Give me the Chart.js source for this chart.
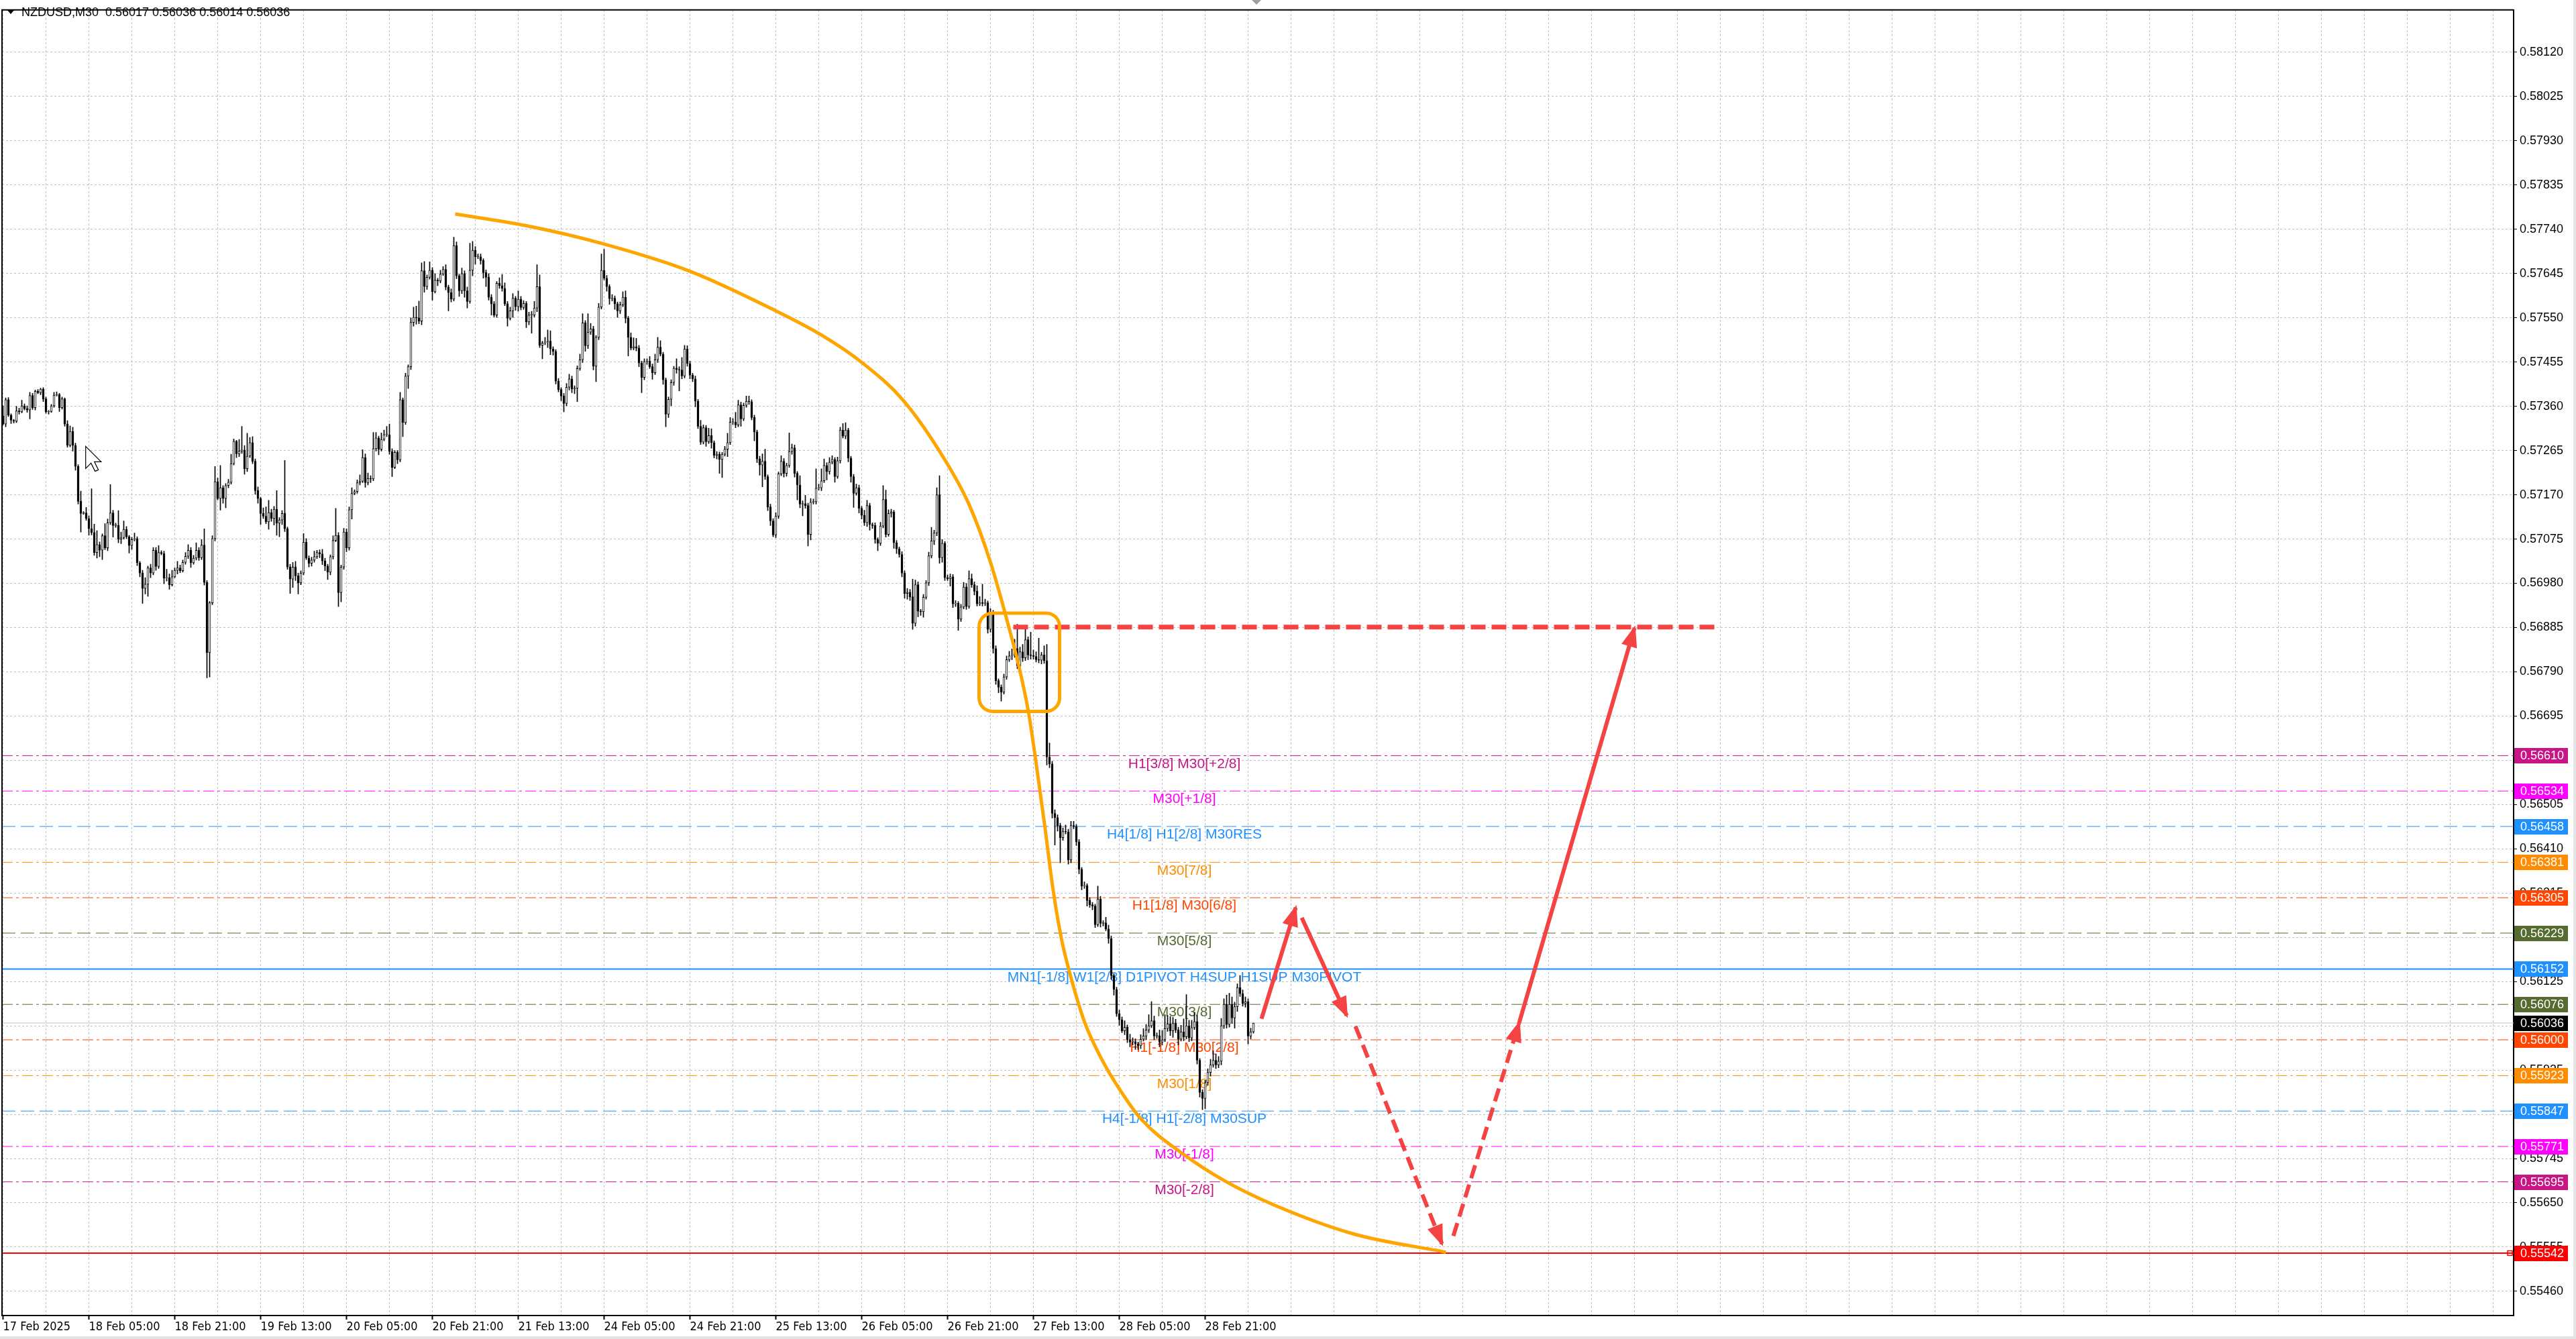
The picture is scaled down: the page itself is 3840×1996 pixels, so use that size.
<!DOCTYPE html>
<html>
<head>
<meta charset="utf-8">
<title>NZDUSD,M30</title>
<script src="https://cdn.jsdelivr.net/npm/chart.js"></script>
<style>
  html, body { margin: 0; padding: 0; background: #fff; overflow: hidden; }
  canvas { display: block; }
</style>
</head>
<body>
<canvas id="chart" width="3840" height="1996"></canvas>
<script>
// NZDUSD M30 candles, prices in points (1 point = 0.00001)
const firstOpen = 57339;
const closes = [
  57322, 57374, 57341, 57330, 57328, 57350, 57348, 57361, 57355, 57352,
  57383, 57357, 57392, 57389, 57397, 57376, 57348, 57349, 57361, 57384,
  57385, 57357, 57376, 57322, 57276, 57306, 57276, 57231, 57156, 57130,
  57131, 57119, 57097, 57089, 57046, 57063, 57051, 57082, 57056, 57110,
  57131, 57104, 57104, 57075, 57078, 57096, 57080, 57061, 57074, 57076,
  57024, 57002, 56969, 56978, 57013, 57002, 57051, 57016, 57046, 57044,
  56991, 56992, 56977, 56994, 57008, 57013, 57007, 57025, 57038, 57051,
  57024, 57034, 57051, 57035, 57062, 56982, 56831, 56938, 57076, 57198,
  57162, 57185, 57162, 57190, 57197, 57237, 57285, 57258, 57264, 57266,
  57226, 57253, 57282, 57242, 57179, 57162, 57130, 57124, 57112, 57132,
  57119, 57139, 57109, 57116, 57130, 57097, 57015, 56989, 57015, 56996,
  56981, 57002, 57068, 57034, 57023, 57030, 57037, 57046, 57043, 57028,
  57017, 57004, 57037, 57072, 57083, 56960, 57015, 57090, 57056, 57138,
  57173, 57177, 57196, 57199, 57250, 57196, 57205, 57204, 57269, 57292,
  57268, 57289, 57299, 57299, 57263, 57229, 57261, 57245, 57374, 57325,
  57425, 57445, 57540, 57551, 57550, 57543, 57651, 57617, 57637, 57652,
  57606, 57631, 57629, 57644, 57654, 57616, 57604, 57590, 57705, 57640,
  57608, 57645, 57608, 57585, 57652, 57695, 57681, 57681, 57673, 57647,
  57637, 57594, 57580, 57556, 57624, 57619, 57613, 57580, 57549, 57565,
  57592, 57574, 57590, 57572, 57581, 57541, 57556, 57556, 57571, 57617,
  57491, 57496, 57498, 57500, 57483, 57478, 57414, 57396, 57382, 57366,
  57401, 57419, 57397, 57399, 57441, 57460, 57539, 57490, 57519, 57526,
  57446, 57508, 57573, 57652, 57635, 57617, 57591, 57592, 57580, 57565,
  57578, 57594, 57549, 57508, 57485, 57488, 57485, 57453, 57422, 57456,
  57457, 57445, 57432, 57460, 57487, 57472, 57417, 57343, 57375, 57411,
  57442, 57439, 57438, 57425, 57483, 57452, 57427, 57419, 57371, 57317,
  57283, 57314, 57284, 57297, 57282, 57255, 57257, 57246, 57257, 57268,
  57282, 57326, 57326, 57320, 57363, 57333, 57362, 57371, 57370, 57336,
  57305, 57247, 57234, 57242, 57209, 57144, 57114, 57084, 57124, 57215,
  57242, 57216, 57233, 57263, 57271, 57216, 57191, 57150, 57151, 57147,
  57085, 57154, 57155, 57184, 57185, 57200, 57233, 57220, 57240, 57246,
  57209, 57243, 57309, 57296, 57309, 57249, 57209, 57173, 57185, 57141,
  57126, 57110, 57147, 57106, 57104, 57074, 57066, 57103, 57160, 57085,
  57130, 57133, 57067, 57054, 57042, 57002, 56958, 56961, 56951, 56894,
  56977, 56920, 56919, 56950, 56981, 57039, 57071, 57088, 57170, 57035,
  57066, 56992, 56990, 56994, 56936, 56937, 56903, 56929, 56972, 56930,
  56990, 56977, 56963, 56936, 56938, 56937, 56938, 56881, 56918, 56840,
  56771, 56757, 56746, 56779, 56816, 56824, 56825, 56840, 56803, 56833,
  56820, 56859, 56826, 56825, 56823, 56816, 56815, 56826, 56814, 56607,
  56592, 56486, 56477, 56460, 56434, 56447, 56446, 56386, 56460, 56458,
  56425, 56366, 56330, 56331, 56299, 56290, 56287, 56247, 56302, 56250,
  56251, 56238, 56217, 56138, 56108, 56056, 56043, 56019, 56027, 56000,
  55995, 55996, 55991, 55987, 56001, 56008, 56021, 56030, 56041, 56008,
  56009, 55995, 56000, 56024, 56034, 56019, 56036, 56021, 56001, 56017,
  56006, 56030, 56004, 56026, 56039, 55956, 55887, 55874, 55908, 55930,
  55946, 55956, 55946, 55954, 56030, 56076, 56033, 56076, 56047, 56071,
  56112, 56099, 56078, 56082, 56008, 56017, 56036
];
// wick above the body / below the body, in points
const upWick = [
  22, 4, 5, 3, 2, 10, 6, 12, 4, 6,
  7, 5, 3, 4, 2, 3, 4, 2, 3, 6,
  6, 3, 4, 2, 7, 12, 9, 5, 4, 22,
  3, 12, 6, 86, 18, 30, 6, 4, 26, 8,
  61, 6, 5, 32, 12, 18, 6, 3, 5, 12,
  4, 3, 6, 14, 4, 8, 6, 6, 15, 4,
  5, 18, 8, 14, 5, 14, 6, 5, 8, 12,
  6, 6, 16, 6, 12, 35, 4, 3, 6, 33,
  8, 48, 5, 4, 6, 20, 5, 2, 25, 51,
  10, 49, 11, 13, 5, 8, 3, 12, 20, 26,
  7, 6, 40, 5, 6, 114, 4, 6, 10, 12,
  6, 5, 19, 8, 5, 6, 12, 5, 6, 10,
  6, 4, 4, 10, 58, 6, 4, 8, 7, 6,
  12, 4, 6, 14, 17, 8, 12, 6, 35, 12,
  4, 14, 10, 18, 23, 6, 4, 4, 16, 4,
  6, 4, 10, 22, 24, 36, 17, 20, 5, 18,
  6, 14, 4, 8, 6, 10, 4, 8, 18, 8,
  4, 12, 6, 8, 58, 19, 8, 6, 6, 4,
  6, 8, 6, 5, 4, 12, 24, 12, 5, 8,
  10, 4, 18, 6, 6, 4, 6, 8, 14, 47,
  25, 4, 10, 24, 22, 5, 4, 6, 4, 6,
  8, 10, 6, 5, 6, 12, 20, 5, 40, 12,
  6, 4, 8, 35, 45, 6, 4, 8, 5, 4,
  6, 12, 14, 4, 10, 19, 18, 6, 4, 6,
  5, 10, 6, 12, 21, 14, 4, 4, 5, 6,
  4, 20, 6, 27, 8, 7, 5, 4, 6, 4,
  13, 6, 5, 16, 15, 4, 6, 5, 4, 6,
  20, 10, 8, 21, 10, 6, 5, 11, 11, 4,
  5, 4, 6, 16, 26, 4, 6, 5, 8, 4,
  12, 6, 5, 40, 8, 6, 4, 20, 6, 18,
  5, 8, 6, 42, 8, 26, 14, 6, 10, 8,
  4, 8, 6, 14, 16, 4, 4, 5, 8, 6,
  4, 11, 11, 5, 4, 6, 4, 8, 30, 20,
  8, 6, 4, 5, 4, 6, 5, 8, 6, 38,
  10, 6, 4, 6, 5, 8, 29, 6, 15, 41,
  8, 4, 6, 6, 5, 6, 4, 6, 10, 8,
  17, 10, 6, 12, 14, 40, 8, 4, 8, 4,
  6, 4, 5, 6, 8, 10, 14, 20, 52, 10,
  16, 25, 6, 49, 12, 10, 46, 6, 20, 35,
  30, 6, 8, 6, 5, 8, 14, 6, 9, 9,
  4, 5, 4, 8, 4, 6, 5, 4, 28, 6,
  5, 12, 8, 6, 4, 5, 8, 6, 14, 5,
  12, 8, 6, 4, 10, 16, 12, 24, 41, 10,
  6, 12, 20, 30, 18, 16, 12, 8, 6, 14,
  28, 67, 12, 16, 20, 14, 4, 6, 5, 8,
  12, 20, 14, 10, 16, 12, 20, 24, 16, 10,
  8, 26, 8, 10, 6, 8, 0
];
const downWick = [
  2, 6, 3, 7, 4, 3, 5, 2, 3, 5,
  19, 4, 5, 2, 4, 6, 3, 5, 2, 3,
  2, 8, 3, 5, 4, 3, 12, 8, 6, 40,
  2, 4, 14, 5, 6, 12, 14, 20, 4, 6,
  4, 25, 4, 8, 10, 3, 4, 16, 8, 3,
  6, 8, 32, 12, 26, 10, 4, 8, 4, 3,
  12, 6, 10, 3, 2, 8, 4, 3, 4, 5,
  10, 3, 4, 6, 4, 6, 54, 52, 4, 5,
  3, 25, 10, 20, 5, 4, 3, 8, 6, 5,
  12, 6, 3, 5, 8, 10, 24, 5, 4, 16,
  6, 14, 26, 29, 10, 6, 5, 31, 18, 10,
  24, 4, 4, 3, 8, 6, 5, 4, 8, 8,
  10, 16, 6, 5, 3, 30, 20, 5, 8, 5,
  20, 3, 4, 5, 3, 10, 5, 8, 4, 5,
  12, 4, 3, 4, 6, 20, 3, 8, 4, 30,
  4, 27, 6, 8, 14, 6, 8, 12, 6, 4,
  18, 3, 10, 4, 3, 6, 39, 6, 4, 6,
  12, 6, 14, 14, 4, 12, 16, 4, 8, 12,
  20, 6, 24, 4, 5, 6, 6, 4, 17, 4,
  14, 8, 10, 5, 4, 12, 6, 39, 4, 8,
  5, 29, 4, 12, 12, 8, 6, 5, 10, 18,
  5, 6, 8, 10, 29, 4, 6, 12, 6, 5,
  8, 33, 5, 4, 4, 10, 12, 5, 12, 14,
  6, 4, 10, 40, 4, 4, 6, 8, 33, 5,
  6, 4, 14, 4, 6, 4, 10, 27, 7, 14,
  6, 8, 45, 6, 4, 6, 8, 6, 12, 5,
  5, 4, 10, 4, 12, 6, 8, 30, 39, 4,
  16, 4, 5, 6, 4, 16, 4, 4, 6, 5,
  19, 8, 22, 47, 6, 8, 10, 4, 6, 5,
  4, 8, 6, 4, 6, 8, 32, 8, 25, 6,
  25, 12, 4, 5, 4, 6, 4, 18, 6, 4,
  12, 4, 5, 4, 6, 8, 12, 30, 4, 10,
  8, 6, 8, 12, 6, 8, 16, 5, 4, 6,
  4, 8, 12, 10, 6, 8, 10, 12, 8, 13,
  6, 12, 8, 12, 4, 6, 5, 8, 6, 12,
  10, 6, 4, 16, 8, 6, 24, 5, 4, 6,
  4, 6, 8, 5, 4, 6, 5, 8, 6, 10,
  8, 12, 19, 4, 5, 4, 8, 4, 6, 5,
  8, 6, 10, 8, 6, 5, 6, 8, 6, 17,
  8, 10, 59, 12, 54, 6, 4, 9, 6, 5,
  8, 10, 8, 5, 12, 6, 8, 6, 4, 8,
  6, 4, 10, 8, 12, 6, 12, 4, 8, 6,
  10, 6, 12, 8, 6, 4, 8, 6, 4, 8,
  5, 10, 6, 4, 6, 10, 14, 6, 12, 4,
  8, 4, 8, 6, 4, 8, 10, 24, 22, 6,
  8, 5, 8, 6, 8, 6, 8, 6, 12, 22,
  10, 6, 6, 8, 17, 6, 3
];

const timeLabels = ['17 Feb 2025', '18 Feb 05:00', '18 Feb 21:00', '19 Feb 13:00', '20 Feb 05:00',
  '20 Feb 21:00', '21 Feb 13:00', '24 Feb 05:00', '24 Feb 21:00', '25 Feb 13:00', '26 Feb 05:00',
  '26 Feb 21:00', '27 Feb 13:00', '28 Feb 05:00', '28 Feb 21:00'];
const barsPerLabel = 32;
const barsPerGrid = 16;

const priceTicks = [0.58120, 0.58025, 0.57930, 0.57835, 0.57740, 0.57645, 0.57550, 0.57455,
  0.57360, 0.57265, 0.57170, 0.57075, 0.56980, 0.56885, 0.56790, 0.56695, 0.56600, 0.56505,
  0.56410, 0.56315, 0.56220, 0.56125, 0.56030, 0.55935, 0.55840, 0.55745, 0.55650, 0.55555, 0.55460];

// Murrey math levels
const levelPrices = [0.56610, 0.56534, 0.56458, 0.56381, 0.56305, 0.56229, 0.56152,
  0.56076, 0.56000, 0.55923, 0.55847, 0.55771, 0.55695, 0.55542];
const levelNames = ['H1[3/8] M30[+2/8]', 'M30[+1/8]', 'H4[1/8] H1[2/8] M30RES', 'M30[7/8]',
  'H1[1/8] M30[6/8]', 'M30[5/8]', 'MN1[-1/8] W1[2/8] D1PIVOT H4SUP H1SUP M30PIVOT', 'M30[3/8]',
  'H1[-1/8] M30[2/8]', 'M30[1/8]', 'H4[-1/8] H1[-2/8] M30SUP', 'M30[-1/8]', 'M30[-2/8]', ''];
const currentPrice = 0.56036;

// hand drawn objects, in bar index / price
const arcBars = [168.5, 194.8, 223.6, 256.0, 286.6, 305.0, 320.3, 335.6, 350.9, 360.1, 368.0,
  375.4, 378.5, 382.2, 385.2, 388.3, 391.3, 394.4, 397.5, 403.0, 409.1, 416.4, 424.4, 439.7,
  455.0, 473.4, 503.4, 537.7];
const arcPrices = [0.57773, 0.57748, 0.57709, 0.57650, 0.57569, 0.57513, 0.57453, 0.57372,
  0.57246, 0.57148, 0.57025, 0.56874, 0.56804, 0.56702, 0.56586, 0.56456, 0.56323, 0.56218,
  0.56144, 0.56039, 0.55962, 0.55891, 0.55828, 0.55755, 0.55698, 0.55646, 0.55583, 0.55544];
const boxBars = [363.75, 393.75];
const boxPrices = [0.56705, 0.56916];
const targetBars = [376.5, 639.75];
const targetPrice = 0.56886;
const arrowBars = [[469, 481.75], [484, 500.75], [504, 536.25], [540.5, 565], [565, 608]];
const arrowPrices = [[0.56045, 0.56284], [0.56262, 0.56052], [0.56029, 0.55562], [0.55579, 0.56036], [0.56036, 0.56884]];
const arrowDashed = [false, false, true, true, false];
const cursorBar = 30.8, cursorPrice = 0.57274;

// styles
const FONT = '"Liberation Sans", Arial, sans-serif';
const levelColors = ['#C71585', '#FF00FF', '#1E90FF', '#FF8C00', '#FF4500', '#556B2F', '#1E90FF',
  '#556B2F', '#FF4500', '#FF8C00', '#1E90FF', '#FF00FF', '#C71585', '#FF0000'];
const levelStyles = ['dashdot', 'dashdot', 'dash', 'dashdot', 'dashdot', 'dash', 'solid',
  'dashdot', 'dashdot', 'dashdot', 'dash', 'dashdot', 'dashdot', 'solid'];
const dashes = { solid: [], dash: [20, 8], dashdot: [16, 5, 4, 5] };
const arrowColor = 'rgb(245, 66, 66)';
const xMin = -0.375, xMax = 935.625;
const yMin = 0.55408, yMax = 0.58211;
const labelBar = 440.25;

const opens = closes.map((c, i) => i === 0 ? firstOpen : closes[i - 1]);
const bodies = closes.map((c, i) => ({ x: i, y: [opens[i] / 1e5, c / 1e5] }));
const wicks = closes.map((c, i) => ({
  x: i,
  y: [(Math.min(opens[i], c) - downWick[i]) / 1e5, (Math.max(opens[i], c) + upWick[i]) / 1e5]
}));
const bodyColors = closes.map((c, i) => c >= opens[i] ? '#FFFFFF' : '#000000');

const datasets = [];
levelPrices.forEach((p, k) => {
  datasets.push({
    type: 'line', order: 20,
    data: [{ x: xMin, y: p }, { x: xMax, y: p }],
    borderColor: levelColors[k], borderWidth: levelStyles[k] === 'solid' ? 2 : 1,
    borderDash: dashes[levelStyles[k]], pointRadius: 0
  });
});
datasets.push({
  type: 'line', order: 19,
  data: [{ x: xMin, y: currentPrice }, { x: xMax, y: currentPrice }],
  borderColor: '#C0C0C0', borderWidth: 1, pointRadius: 0
});
datasets.push({
  type: 'bar', order: 10, grouped: false,
  data: wicks, backgroundColor: '#000', barThickness: 1, borderWidth: 0
});
datasets.push({
  type: 'bar', order: 9, grouped: false,
  data: bodies, backgroundColor: bodyColors, borderColor: '#000', borderWidth: 1,
  borderSkipped: false, barThickness: 3, minBarLength: 1
});
datasets.push({
  type: 'line', order: 3,
  data: arcBars.map((b, i) => ({ x: b, y: arcPrices[i] })),
  borderColor: '#FFA500', borderWidth: 5, pointRadius: 0, cubicInterpolationMode: 'monotone'
});
datasets.push({
  type: 'line', order: 2,
  data: targetBars.map(b => ({ x: b, y: targetPrice })),
  borderColor: arrowColor, borderWidth: 7, borderDash: [22, 9], pointRadius: 0
});
arrowBars.forEach((bars, k) => {
  datasets.push({
    type: 'line', order: 1,
    data: bars.map((b, j) => ({ x: b, y: arrowPrices[k][j] })),
    borderColor: arrowColor, borderWidth: 6, borderDash: arrowDashed[k] ? [20, 10] : [],
    pointRadius: 0
  });
});

function arrowHead(ctx, x1, y1, x2, y2, len, half) {
  const a = Math.atan2(y2 - y1, x2 - x1);
  const bx = x2 - len * Math.cos(a), by = y2 - len * Math.sin(a);
  ctx.beginPath();
  ctx.moveTo(x2 + 4 * Math.cos(a), y2 + 4 * Math.sin(a));
  ctx.lineTo(bx + half * Math.sin(a), by - half * Math.cos(a));
  ctx.lineTo(bx - half * Math.sin(a), by + half * Math.cos(a));
  ctx.closePath();
  ctx.fill();
}

const mt4Overlay = {
  id: 'mt4Overlay',
  beforeDatasetsDraw(chart) {
    const { ctx, scales: { x, y } } = chart;
    ctx.save();
    ctx.font = '21px ' + FONT;
    ctx.textAlign = 'center';
    ctx.textBaseline = 'top';
    levelPrices.forEach((p, k) => {
      if (!levelNames[k]) return;
      ctx.fillStyle = levelColors[k];
      ctx.fillText(levelNames[k], x.getPixelForValue(labelBar), y.getPixelForValue(p) + 2);
    });
    ctx.restore();
  },
  afterDatasetsDraw(chart) {
    const { ctx, scales: { x, y } } = chart;
    ctx.save();
    // orange rounded box
    const x1 = x.getPixelForValue(boxBars[0]), x2 = x.getPixelForValue(boxBars[1]);
    const y1 = y.getPixelForValue(boxPrices[1]), y2 = y.getPixelForValue(boxPrices[0]);
    ctx.strokeStyle = '#FFA500';
    ctx.lineWidth = 5;
    ctx.beginPath();
    ctx.roundRect(x1, y1, x2 - x1, y2 - y1, 20);
    ctx.stroke();
    // arrow heads
    ctx.fillStyle = arrowColor;
    arrowBars.forEach((bars, k) => {
      arrowHead(ctx,
        x.getPixelForValue(bars[0]), y.getPixelForValue(arrowPrices[k][0]),
        x.getPixelForValue(bars[1]), y.getPixelForValue(arrowPrices[k][1]), 28, 12);
    });
    // mouse pointer left on the screenshot
    const cx = x.getPixelForValue(cursorBar), cy = y.getPixelForValue(cursorPrice);
    const pts = [[0, 0], [0, 33], [8, 25], [14, 37], [19, 35], [13, 23], [23, 23]];
    ctx.beginPath();
    pts.forEach(([px, py], j) => j ? ctx.lineTo(cx + px, cy + py) : ctx.moveTo(cx + px, cy + py));
    ctx.closePath();
    ctx.fillStyle = '#FFF';
    ctx.fill();
    ctx.strokeStyle = '#000';
    ctx.lineWidth = 1.2;
    ctx.stroke();
    ctx.restore();
  },
  afterDraw(chart) {
    const { ctx, scales: { y }, chartArea } = chart;
    ctx.save();
    // frame
    ctx.strokeStyle = '#000';
    ctx.lineWidth = 2;
    ctx.beginPath();
    ctx.moveTo(chartArea.left, chartArea.bottom);
    ctx.lineTo(chartArea.left, chartArea.top);
    ctx.lineTo(chartArea.right, chartArea.top);
    ctx.stroke();
    // title
    ctx.fillStyle = '#000';
    ctx.beginPath();
    ctx.moveTo(10, 14); ctx.lineTo(22, 14); ctx.lineTo(16, 21); ctx.closePath();
    ctx.fill();
    ctx.font = '18px ' + FONT;
    ctx.textAlign = 'left';
    ctx.textBaseline = 'middle';
    ctx.fillText('NZDUSD,M30  0.56017 0.56036 0.56014 0.56036', 32, 19);
    // price boxes on the axis
    const boxes = levelPrices.map((p, k) => [p, levelColors[k]]);
    boxes.push([currentPrice, '#000000']);
    boxes.forEach(([p, col]) => {
      const py = y.getPixelForValue(p);
      ctx.fillStyle = col;
      ctx.fillRect(chartArea.right + 1, Math.round(py - 11), 80, 23);
      ctx.fillStyle = '#FFF';
      ctx.fillText(p.toFixed(5), chartArea.right + 10, py + 1);
    });
    // small square at the end of the red line
    const ry = y.getPixelForValue(levelPrices[levelPrices.length - 1]);
    ctx.strokeStyle = '#FF0000';
    ctx.lineWidth = 1.5;
    ctx.strokeRect(chartArea.right - 9, ry - 3.5, 7, 7);
    // chart shift marker
    ctx.fillStyle = '#A0A0A0';
    ctx.beginPath();
    ctx.moveTo(1866, 0); ctx.lineTo(1880, 0); ctx.lineTo(1873, 7); ctx.closePath();
    ctx.fill();
    // window edge
    ctx.fillStyle = '#E4E4E4';
    ctx.fillRect(0, 1992, 3840, 4);
    ctx.fillRect(3836, 0, 4, 1996);
    ctx.restore();
  }
};

Chart.defaults.font.family = FONT;

new Chart(document.getElementById('chart'), {
  type: 'bar',
  data: { datasets },
  options: {
    responsive: false,
    devicePixelRatio: 1,
    animation: false,
    events: [],
    layout: { padding: { left: 3, top: 5, right: 0, bottom: 0 } },
    plugins: { legend: { display: false }, tooltip: { enabled: false } },
    scales: {
      x: {
        type: 'linear', min: xMin, max: xMax, offset: false,
        afterBuildTicks(scale) {
          const t = [];
          for (let v = 0; v <= xMax; v += barsPerGrid) t.push({ value: v });
          scale.ticks = t;
        },
        afterFit(scale) { scale.height = 35; },
        ticks: {
          autoSkip: false, maxRotation: 0, minRotation: 0, align: 'start', padding: 1,
          color: '#000',
          font: { family: '"DejaVu Sans Condensed", "Liberation Sans", Arial, sans-serif', size: 18 },
          callback(v) { return v % barsPerLabel === 0 ? (timeLabels[v / barsPerLabel] || '') : ''; }
        },
        grid: {
          color: '#C0C0C0', lineWidth: 1, offset: false, tickLength: 6, tickWidth: 2,
          tickColor(c) {
            const v = c.tick ? c.tick.value : -1;
            return v % barsPerLabel === 0 && v / barsPerLabel < timeLabels.length ? '#000' : 'rgba(0,0,0,0)';
          }
        },
        border: { display: true, color: '#000', width: 2, dash: [3, 3] }
      },
      y: {
        type: 'linear', position: 'right', min: yMin, max: yMax, beginAtZero: false,
        afterBuildTicks(scale) { scale.ticks = priceTicks.map(v => ({ value: v })); },
        afterFit(scale) { scale.width = 93; },
        ticks: {
          autoSkip: false, padding: 4, color: '#000', font: { size: 18 },
          callback(v) { return v.toFixed(5); }
        },
        grid: { color: '#C0C0C0', lineWidth: 1, tickColor: '#000', tickLength: 5, tickWidth: 1 },
        border: { display: true, color: '#000', width: 2, dash: [3, 3] }
      }
    }
  },
  plugins: [mt4Overlay]
});
</script>
</body>
</html>
